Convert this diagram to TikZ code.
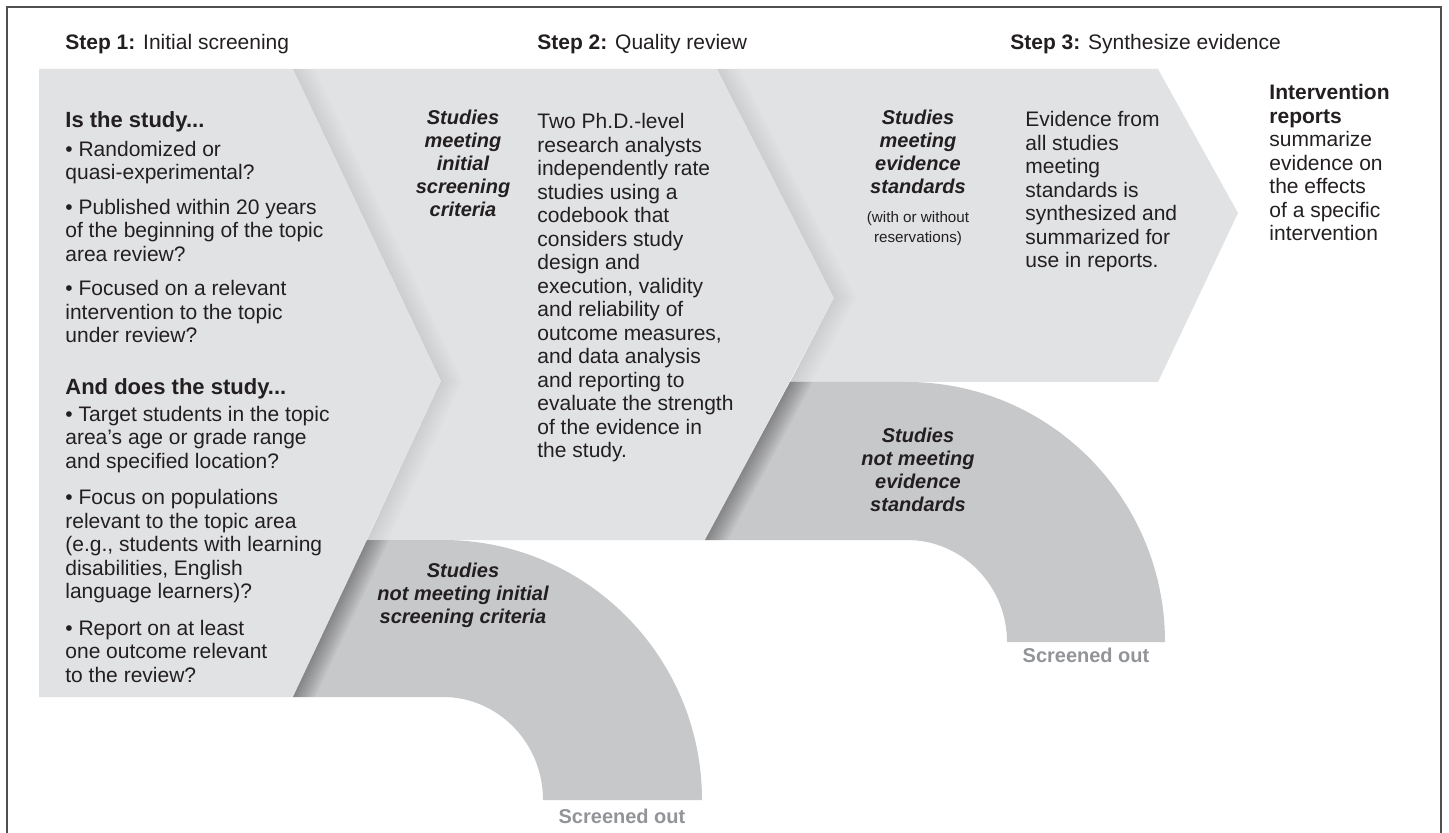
\documentclass[tikz,border=0pt]{standalone}
\usepackage{fontspec}
\setmainfont{Liberation Sans}
\usetikzlibrary{positioning}

\definecolor{chevgray}{RGB}{225,226,228}
\definecolor{bandgray}{RGB}{199,200,202}
\definecolor{inkgray}{RGB}{35,31,32}
\definecolor{outgray}{RGB}{146,148,151}
\definecolor{framegray}{RGB}{80,80,80}

% soft shadow along an edge, kept inside a saved region
\newcommand{\edgeshade}[3]{%
  \begin{scope}
    \clip[use path=#1];
    \foreach \w in {2,4,...,20}
      \draw[line width=\w pt, black, opacity=#3, line join=miter,
            shorten <=-30pt, shorten >=-30pt] #2;
  \end{scope}}

\begin{document}
\begin{tikzpicture}
  [
  x=0.5pt, y=-0.5pt, text=inkgray,
  font=\fontsize{10.5}{11.75}\selectfont,
  heading/.style={anchor=base west, inner sep=0pt},
  bodytext/.style={anchor=base west, inner sep=0pt, align=left},
  crit/.style={anchor=base, inner sep=0pt, align=center,
    font=\fontsize{10}{11.5}\selectfont\bfseries\itshape},
  screened/.style={anchor=base, inner sep=0pt, text=outgray,
    font=\fontsize{10}{12}\selectfont\bfseries}
  ]

\useasboundingbox (0,0) rectangle (1449,833);
\draw[framegray, line width=0.9pt] (7,845) -- (7,7) -- (1441,7) -- (1441,845);

% chevrons and screened-out bands
\path[save path=\pchevone] (39,69) -- (293,69) -- (441,381) -- (293,697) -- (39,697) -- cycle;
\path[save path=\pchevtwo] (293,69) -- (717,69) -- (834,298) -- (705,540) -- (367,540) -- (441,381) -- cycle;
\path[save path=\pchevthree] (717,69) -- (1158,69) -- (1238,213) -- (1158,382) -- (790,382) -- (834,298) -- cycle;
\path[save path=\pbandone] (367,540) -- (443,540)
  arc[start angle=-90, end angle=0, x radius=259, y radius=260] -- (543,800)
  arc[start angle=0, end angle=-90, x radius=100, y radius=103] -- (293,697) -- cycle;
\path[save path=\pbandtwo] (790,382) -- (907,382)
  arc[start angle=-90, end angle=0, x radius=258, y radius=260] -- (1007,642)
  arc[start angle=0, end angle=-90, x radius=100, y radius=102] -- (705,540) -- cycle;

\foreach \p in {\pchevone,\pchevtwo,\pchevthree}
  \fill[chevgray, use path=\p];
\foreach \p in {\pbandone,\pbandtwo}
  \fill[bandgray, use path=\p];

\edgeshade{\pchevtwo}{(293,69) -- (441,381) -- (367,540)}{0.008}
\edgeshade{\pchevthree}{(717,69) -- (834,298) -- (790,382)}{0.008}
\edgeshade{\pbandone}{(367,540) -- (293,697)}{0.035}
\edgeshade{\pbandtwo}{(790,382) -- (705,540)}{0.035}

% step titles
\node[heading] (step1) at (65,50) {\textbf{Step 1:} Initial screening};
\node[heading] (step2) at (537,50) {\textbf{Step 2:} Quality review};
\node[heading] (step3) at (1010,50) {\textbf{Step 3:} Synthesize evidence};

% step 1 (multi-line nodes sit on their last line)
\node[bodytext] (screenq) at (65,682) {%
  {\fontsize{11}{12}\selectfont\bfseries Is the study...}\\[2.5pt]
  • Randomized or\\
  quasi-experimental?\\[5.5pt]
  • Published within 20 years\\
  of the beginning of the topic\\
  area review?\\[5.5pt]
  • Focused on a relevant\\
  intervention to the topic\\
  under review?\\[14pt]
  {\fontsize{11}{12}\selectfont\bfseries And does the study...}\\[1.75pt]
  • Target students in the topic\\
  area’s age or grade range\\
  and specified location?\\[6.5pt]
  • Focus on populations\\
  relevant to the topic area\\
  (e.g., students with learning\\
  disabilities, English\\
  language learners)?\\[6.5pt]
  • Report on at least\\
  one outcome relevant\\
  to the review?};

% step 2
\node[crit] (meet1) at (463,217) {Studies\\meeting\\initial\\screening\\criteria};
\node[bodytext] (review) at (537,458) {%
  Two Ph.D.-level\\
  research analysts\\
  independently rate\\
  studies using a\\
  codebook that\\
  considers study\\
  design and\\
  execution, validity\\
  and reliability of\\
  outcome measures,\\
  and data analysis\\
  and reporting to\\
  evaluate the strength\\
  of the evidence in\\
  the study.};

% step 3
\node[crit] (meet2) at (918,194) {Studies\\meeting\\evidence\\standards};
\node[anchor=base, inner sep=0pt, align=center, font=\fontsize{7.6}{10}\selectfont]
  (resv) at (918,243) {(with or without\\reservations)};
\node[bodytext] (synth) at (1025,268) {%
  Evidence from\\
  all studies\\
  meeting\\
  standards is\\
  synthesized and\\
  summarized for\\
  use in reports.};

\node[bodytext] (report) at (1269,241) {%
  \textbf{Intervention}\\
  \textbf{reports}\\
  summarize\\
  evidence on\\
  the effects\\
  of a specific\\
  intervention};

% screened out
\node[crit] (notmeet1) at (463,623) {Studies\\not meeting initial\\screening criteria};
\node[crit] (notmeet2) at (918,511) {Studies\\not meeting\\evidence\\standards};
\node[screened] (out1) at (622,823) {Screened out};
\node[screened] (out2) at (1086,662) {Screened out};

\end{tikzpicture}
\end{document}
